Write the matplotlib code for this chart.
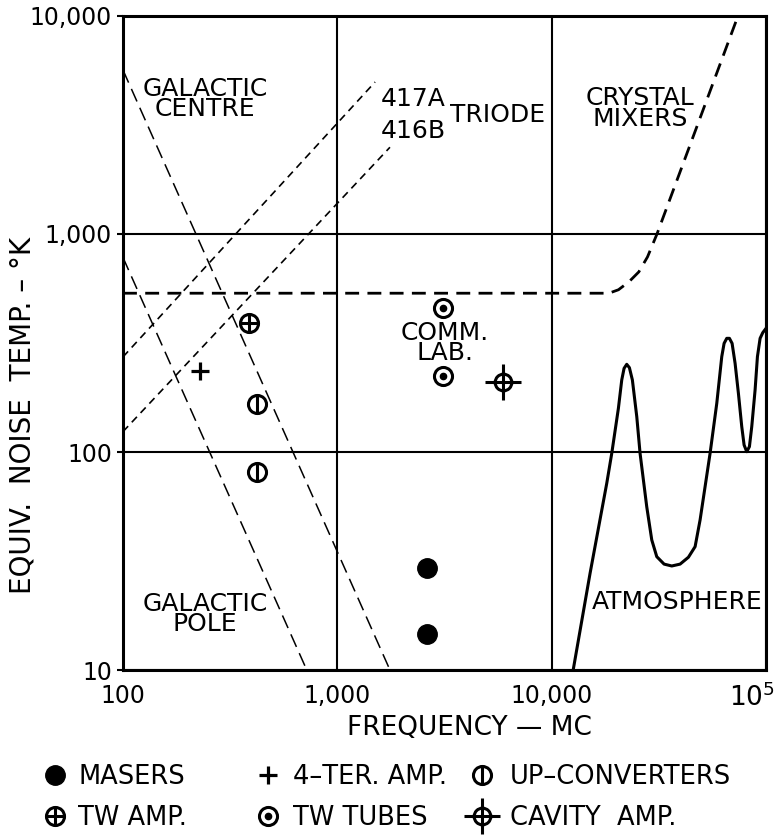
import matplotlib
matplotlib.use('Agg')
import matplotlib.pyplot as plt
import matplotlib.transforms as mtransforms
from matplotlib.ticker import NullLocator

## ---------------------- DATA (frequency in MC, temperature in deg K) ----------------------
# dashed sky-noise lines
gal_centre_f = [100, 1760]
gal_centre_t = [5650, 10]
gal_pole_f = [100, 720]
gal_pole_t = [780, 10]

# triode lines
t417a_f = [100, 1500]
t417a_t = [273, 4980]
t416b_f = [100, 1760]
t416b_t = [124, 2500]

# crystal mixers
crystal_f = [100, 18500, 20500, 23000, 25500, 28000, 31000, 74000]
crystal_t = [535, 535, 555, 605, 670, 785, 1000, 10000]

# atmosphere
atmos_f = [12600, 15110, 18070, 19070, 20480, 21230, 21770, 22400, 23050, 23800,
           24950, 25850, 27770, 29310, 30930, 33460, 36340, 39740, 43450, 46690,
           49260, 51970, 54840, 58930, 62170, 63750, 65600, 67510, 69470, 71750,
           74350, 77070, 79030, 81310, 83680, 85810, 88940, 91200, 93860, 96580, 100000]
atmos_t = [10, 27.8, 71.8, 98.6, 158.6, 214, 242, 252.5, 243.7, 214,
           145.2, 98.6, 56.1, 39.5, 33.1, 30.6, 30.0, 30.6, 32.9, 36.8,
           48.8, 69.3, 98.6, 167.2, 273.7, 315, 332.2, 332.2, 315, 255,
           185.8, 130.7, 107.7, 100.3, 105.8, 130.7, 192.5, 273.7, 332.2, 352.7, 369]

# devices
maser_f = [2630, 2630]
maser_t = [29.3, 14.6]
terminal_f = [229]
terminal_t = [236]
twamp_f = [388]
twamp_t = [389]
upconv_f = [424, 424]
upconv_t = [166, 81.3]
twtube_f = [3105, 3105]
twtube_t = [456, 223]
cavity_f = [5920]
cavity_t = [210]

xticks = [100, 1000, 10000, 100000]
xticklabels = ['100', '1,000', '10,000', r'10$^{5}$']
yticks = [10, 100, 1000, 10000]
yticklabels = ['10', '100', '1,000', '10,000']

## ---------------------- FIGURE ----------------------
plt.rcParams['font.family'] = 'DejaVu Sans'
plt.rcParams['mathtext.default'] = 'regular'

fig = plt.figure(figsize=(7.75, 8.35), dpi=100)
ax = fig.add_axes([123/775, 165/835, 643/775, 654/835])
ax.set_xscale('log')
ax.set_yscale('log')
ax.set_xlim(100, 1e5)
ax.set_ylim(10, 1e4)

ax.set_xticks(xticks)
ax.set_xticklabels(xticklabels, fontsize=17)
ax.set_yticks(yticks)
ax.set_yticklabels(yticklabels, fontsize=17)
ax.xaxis.set_minor_locator(NullLocator())
ax.yaxis.set_minor_locator(NullLocator())
ax.tick_params(axis='x', length=0, pad=10)
ax.tick_params(axis='y', length=4, width=1.5, pad=4)
# last x label pushed to the right edge like the original
lab = ax.get_xticklabels()[-1]
lab.set_ha('right')
lab.set_fontsize(19)
lab.set_transform(lab.get_transform() + mtransforms.ScaledTranslation(9/100, 0, fig.dpi_scale_trans))

ax.grid(True, which='major', color='black', lw=1.5)
for s in ax.spines.values():
    s.set_linewidth(2.2)

# lines
ax.plot(gal_centre_f, gal_centre_t, color='black', lw=1.1, dashes=(9, 4.5))
ax.plot(gal_pole_f, gal_pole_t, color='black', lw=1.1, dashes=(9, 4.5))
ax.plot(t417a_f, t417a_t, color='black', lw=1.2, dashes=(4.5, 3.2))
ax.plot(t416b_f, t416b_t, color='black', lw=1.2, dashes=(4.5, 3.2))
ax.plot(crystal_f, crystal_t, color='black', lw=2.0, dashes=(5, 3))
ax.plot(atmos_f, atmos_t, color='black', lw=2.2, solid_joinstyle='round')

# device markers
ms = 13
h_maser = ax.plot(maser_f, maser_t, 'o', color='black', ms=14, ls='none')[0]
h_term = ax.plot(terminal_f, terminal_t, '+', color='black', ms=13, mew=2.3, ls='none')[0]
h_tw1 = ax.plot(twamp_f, twamp_t, 'o', mfc='white', mec='black', mew=2.2, ms=ms, ls='none')[0]
h_tw2 = ax.plot(twamp_f, twamp_t, '+', color='black', mew=2.2, ms=ms, ls='none')[0]
h_up1 = ax.plot(upconv_f, upconv_t, 'o', mfc='white', mec='black', mew=2.2, ms=ms, ls='none')[0]
h_up2 = ax.plot(upconv_f, upconv_t, '|', color='black', mew=2.2, ms=ms, ls='none')[0]
h_tt1 = ax.plot(twtube_f, twtube_t, 'o', mfc='white', mec='black', mew=2.2, ms=ms, ls='none')[0]
h_tt2 = ax.plot(twtube_f, twtube_t, 'o', color='black', ms=4.5, ls='none')[0]
h_cv1 = ax.plot(cavity_f, cavity_t, 'o', mfc='white', mec='black', mew=2.2, ms=12, ls='none')[0]
h_cv2 = ax.plot(cavity_f, cavity_t, '+', color='black', mew=2.2, ms=26, ls='none')[0]

# region labels
tk = dict(transform=ax.transAxes, fontsize=18, color='black')
ax.text(0.1275, 0.873, 'GALACTIC\nCENTRE', ha='center', va='center', linespacing=0.82, **tk)
ax.text(0.401, 0.873, '417A', ha='left', va='center', **tk)
ax.text(0.401, 0.824, '416B', ha='left', va='center', **tk)
ax.text(0.508, 0.849, 'TRIODE', ha='left', va='center', **tk)
ax.text(0.804, 0.859, 'CRYSTAL\nMIXERS', ha='center', va='center', linespacing=0.82, **tk)
ax.text(0.501, 0.50, 'COMM.\nLAB.', ha='center', va='center', linespacing=0.82, **tk)
ax.text(0.1275, 0.0856, 'GALACTIC\nPOLE', ha='center', va='center', linespacing=0.82, **tk)
ax.text(0.729, 0.104, 'ATMOSPHERE', ha='left', va='center', clip_on=False, **tk)

# axis labels
fig.text(469/775, 1 - 728/835, 'FREQUENCY \u2014 MC', ha='center', va='center', fontsize=19)
fig.text(23/775, 1 - 415/835, 'EQUIV.  NOISE  TEMP. \u2013 \u00b0K', ha='center', va='center',
         rotation=90, fontsize=20)

## ---------------------- LEGEND (three columns) ----------------------
cols = [
    ([h_maser, (h_tw1, h_tw2)], ['MASERS', 'TW AMP.'], 42, 0.38),
    ([h_term, (h_tt1, h_tt2)], ['4\u2013TER. AMP.', 'TW TUBES'], 255, 0.46),
    ([(h_up1, h_up2), (h_cv1, h_cv2)], ['UP\u2013CONVERTERS', 'CAVITY  AMP.'], 469, 0.57),
]
for handles, labels, xpx, tpad in cols:
    leg = fig.legend(handles, labels, loc='upper left', bbox_to_anchor=(xpx/775, 1 - 764/835),
                     frameon=False, fontsize=18.5, handlelength=1.03, handletextpad=tpad,
                     labelspacing=0.6, borderpad=0, borderaxespad=0, numpoints=1)

fig.savefig('out.png', dpi=100)
